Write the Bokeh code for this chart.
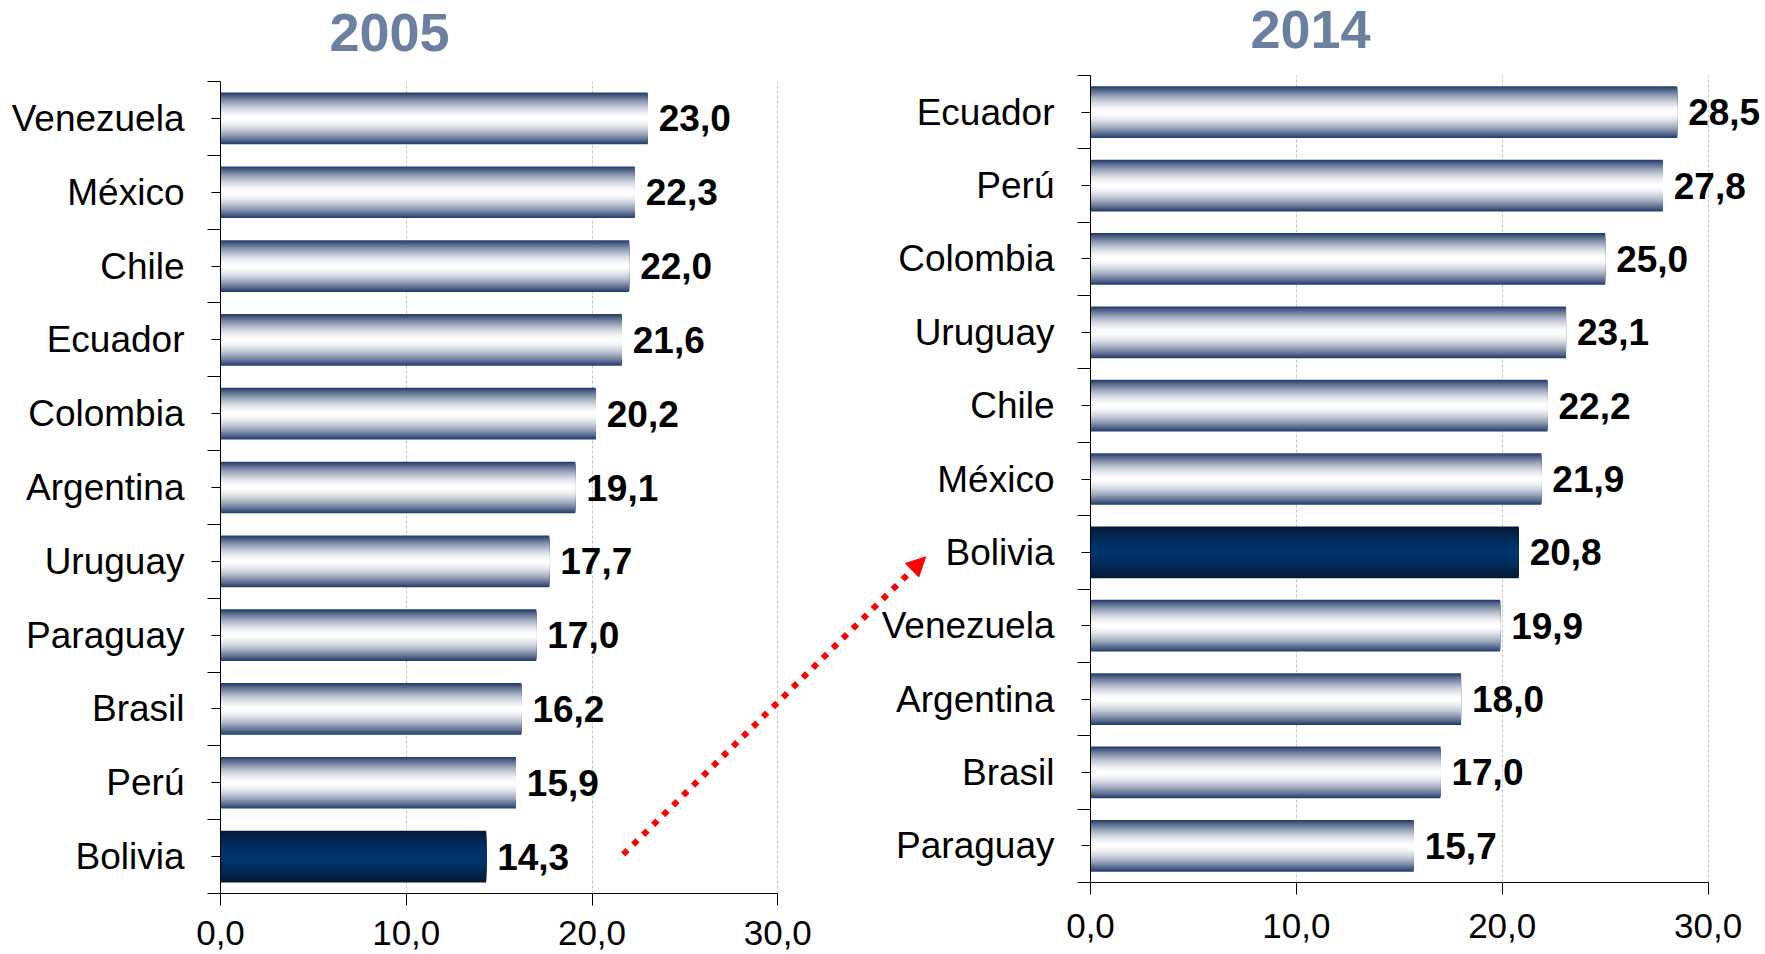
from bokeh.plotting import figure
from bokeh.models import (ColumnDataSource, Range1d, FixedTicker, Arrow, NormalHead, Title)
from bokeh.layouts import row, column
from bokeh.core.properties import value
from bokeh.embed import file_html
from bokeh.resources import INLINE

# ---------------- data ----------------
years = ["2005", "2014"]
cats_2005 = ["Venezuela", "México", "Chile", "Ecuador", "Colombia", "Argentina",
             "Uruguay", "Paraguay", "Brasil", "Perú", "Bolivia"]
vals_2005 = [23.0, 22.3, 22.0, 21.6, 20.2, 19.1, 17.7, 17.0, 16.2, 15.9, 14.3]
cats_2014 = ["Ecuador", "Perú", "Colombia", "Uruguay", "Chile", "México",
             "Bolivia", "Venezuela", "Argentina", "Brasil", "Paraguay"]
vals_2014 = [28.5, 27.8, 25.0, 23.1, 22.2, 21.9, 20.8, 19.9, 18.0, 17.0, 15.7]
highlight = "Bolivia"
x_ticks = [0, 10, 20, 30]
x_tick_labels = ["0,0", "10,0", "20,0", "30,0"]

FONT = "Liberation Sans"
TITLE_COLOR = "#6B80A0"
BAR_EDGE, BAR_CENTER = "#1F3767", "#FFFFFF"
HI_EDGE, HI_CENTER = "#061730", "#00356C"
LEVELS = 24


def hex2rgb(h):
    h = h.lstrip("#")
    return [int(h[i:i + 2], 16) for i in (0, 2, 4)]


def mix(c_center, c_edge, g):
    a, b = hex2rgb(c_center), hex2rgb(c_edge)
    return "#%02x%02x%02x" % tuple(int(round(a[j] + (b[j] - a[j]) * g)) for j in range(3))


def make_chart(title, cats, vals, width, height, x_end, bl, bt, bb,
               title_offset, title_gap, tick_standoff, bar_frac, arrow=None):
    n = len(cats)
    ypos = [n - 1 - i for i in range(n)]
    p = figure(width=width, height=height, x_range=Range1d(0, x_end),
               y_range=Range1d(-0.5, n - 0.5), output_backend="svg",
               toolbar_location=None, min_border_left=bl, min_border_right=0,
               min_border_top=bt, min_border_bottom=bb)
    p.outline_line_color = None
    p.background_fill_alpha = 0
    p.border_fill_alpha = 0

    # gradient bars: nested bands from edge to center
    ys, rights, hs, cols = [], [], [], []
    for k in range(LEVELS):
        r = 1 - k / LEVELS
        g = (r - 0.5 / LEVELS) ** 1.6
        for c, v, y in zip(cats, vals, ypos):
            ys.append(y)
            rights.append(v)
            hs.append(bar_frac * r)
            if c == highlight:
                cols.append(mix(HI_CENTER, HI_EDGE, g))
            else:
                cols.append(mix(BAR_CENTER, BAR_EDGE, g))
    src = ColumnDataSource(dict(y=ys, right=rights, height=hs, color=cols))
    p.hbar(y="y", left=0, right="right", height="height", source=src,
           fill_color="color", line_color=None)

    lab = ColumnDataSource(dict(x=vals, y=ypos,
                                t=[f"{v:.1f}".replace(".", ",") for v in vals]))
    p.text(x="x", y="y", text="t", source=lab, x_offset=11,
           text_font=value(FONT), text_font_style="bold", text_font_size="37px",
           text_align="left", text_baseline="middle", text_color="#000000")

    # x axis
    xa = p.xaxis[0]
    xa.ticker = FixedTicker(ticks=x_ticks, minor_ticks=[])
    xa.major_label_overrides = {t: l for t, l in zip(x_ticks, x_tick_labels)}
    xa.bounds = (x_ticks[0], x_ticks[-1])
    xa.major_tick_out = 12
    xa.major_tick_in = 0
    xa.axis_line_color = "#000000"
    xa.major_tick_line_color = "#000000"
    xa.major_label_text_font = FONT
    xa.major_label_text_font_size = "35px"
    xa.major_label_text_color = "#000000"
    xa.major_label_standoff = tick_standoff

    # y axis
    ya = p.yaxis[0]
    ya.ticker = FixedTicker(ticks=ypos, minor_ticks=[i - 0.5 for i in range(n + 1)])
    ya.major_label_overrides = {y: c for y, c in zip(ypos, cats)}
    ya.major_tick_out = 9
    ya.major_tick_in = 0
    ya.minor_tick_out = 13
    ya.minor_tick_in = 0
    ya.axis_line_color = "#000000"
    ya.major_tick_line_color = "#000000"
    ya.minor_tick_line_color = "#000000"
    ya.major_label_text_font = FONT
    ya.major_label_text_font_size = "37px"
    ya.major_label_text_color = "#000000"
    ya.major_label_standoff = 23

    p.ygrid.grid_line_color = None
    p.xgrid.ticker = FixedTicker(ticks=x_ticks[1:])
    p.xgrid.grid_line_color = "#C4C4C4"
    p.xgrid.grid_line_dash = "3 2"
    p.xgrid.grid_line_width = 1

    # spacer between title and plot area
    p.add_layout(Title(text=" ", text_font_size="1px", standoff=title_gap), "above")

    p.title.text = title
    p.title.align = "left"
    p.title.offset = title_offset
    p.title.standoff = 0
    p.title.text_font = FONT
    p.title.text_font_size = "54px"
    p.title.text_font_style = "bold"
    p.title.text_color = TITLE_COLOR

    if arrow is not None:
        (x0, y0), (x1, y1) = arrow
        p.add_layout(Arrow(end=NormalHead(size=19, fill_color="#FF0000",
                                          line_color="#FF0000"),
                           x_start=x0, y_start=y0, x_end=x1, y_end=y1,
                           line_color="#FF0000", line_width=6, line_dash="6 8"))
    return p


# arrow from Bolivia 2005 towards Bolivia 2014 (left chart data units)
ARROW = ((21.68, 0.03), (37.96, 4.06))

p1 = make_chart(years[0], cats_2005, vals_2005, width=945, height=954,
                x_end=39.03, bl=220, bt=81, bb=61, title_offset=109,
                title_gap=28, tick_standoff=15, bar_frac=0.70, arrow=ARROW)
p2 = make_chart(years[1], cats_2014, vals_2014, width=887, height=954,
                x_end=32.79, bl=209, bt=75, bb=72, title_offset=160,
                title_gap=25, tick_standoff=19, bar_frac=0.705)

c1 = column(p1)
c2 = column(p2)
c2.margin = (0, 0, 0, -67)
layout = row(c1, c2)
open("out.html", "w").write(file_html(layout, INLINE))
